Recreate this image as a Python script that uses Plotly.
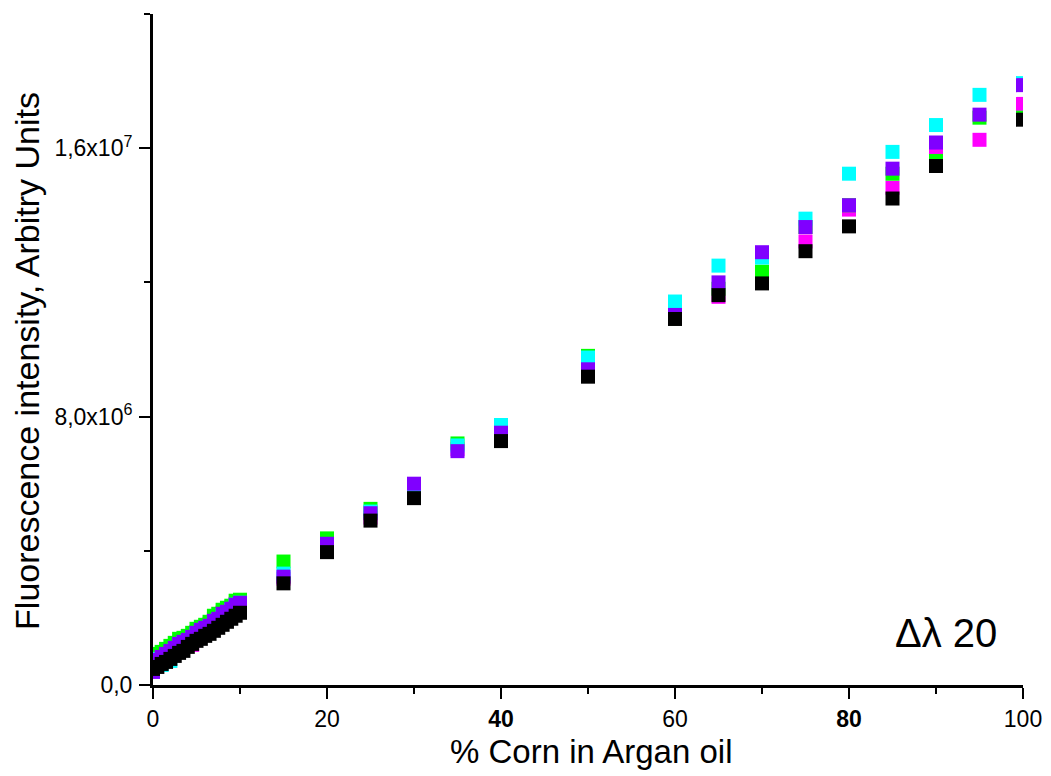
import plotly.graph_objects as go

# ---- data (fluorescence intensity vs % corn oil in argan oil) ----
x_low = [0, 0.5, 1, 1.5, 2, 2.5, 3, 3.5, 4, 4.5, 5, 5.5, 6, 6.5, 7, 7.5, 8, 8.5, 9, 9.5, 10]
x_high = [15, 20, 25, 30, 35, 40, 50, 60, 65, 70, 75, 80, 85, 90, 95, 100]

green_low = [0.837, 0.927, 0.987, 1.077, 1.166, 1.256, 1.376, 1.406, 1.465, 1.555, 1.675,
             1.735, 1.794, 1.884, 2.064, 2.123, 2.243, 2.303, 2.363, 2.512, 2.542]
green_high = [3.68, 4.37, 5.25, 5.86, 7.20, 7.57, 9.81, 10.93, 11.81, 12.32, 13.65, 14.30,
              15.24, 15.62, 16.91, 16.91]

magenta_low = [0.748, 0.807, 0.897, 0.987, 1.047, 1.166, 1.256, 1.316, 1.376, 1.196, 1.585,
               1.675, 1.735, 1.824, 1.974, 2.034, 2.153, 2.213, 2.303, 2.422, 2.482]
magenta_high = [3.17, 4.04, 4.99, 5.71, 7.03, 7.39, 9.36, 11.07, 11.57, 12.05, 13.22, 14.17,
                14.82, 15.80, 16.25, 17.32]

cyan_low = [0.688, 0.778, 0.598, 0.867, 0.718, 1.047, 1.196, 1.256, 1.316, 1.406, 1.525,
            1.585, 1.675, 1.735, 1.884, 1.944, 2.093, 2.153, 2.243, 2.393, 2.452]
cyan_high = [3.32, 4.10, 5.17, 5.80, 7.14, 7.75, 9.76, 11.43, 12.50, 12.74, 13.90, 15.24,
             15.89, 16.69, 17.59, 17.94]

violet_low = [0.389, 0.748, 0.837, 0.927, 1.017, 1.107, 1.226, 1.286, 1.346, 1.436, 1.555,
              1.645, 1.705, 1.765, 1.914, 1.974, 2.123, 2.183, 2.273, 2.393, 2.452]
violet_high = [3.23, 4.21, 5.12, 6.00, 6.97, 7.52, 9.41, 11.03, 12.00, 12.90, 13.65, 14.30,
               15.39, 16.17, 17.00, 17.88]

black_low = [0.479, 0.538, 0.628, 0.688, 0.778, 0.867, 0.957, 1.017, 1.136, 1.226, 1.316,
             1.376, 1.465, 1.525, 1.615, 1.705, 1.794, 1.884, 1.974, 2.064, 2.153]
black_high = [3.03, 3.96, 4.90, 5.57, None, 7.27, 9.19, 10.91, 11.62, 11.97, 12.93, 13.67,
              14.50, 15.47, None, 16.85]

series = [
    ("magenta", magenta_low + magenta_high, "#FF00FF"),
    ("green", green_low + green_high, "#00FF00"),
    ("cyan", cyan_low + cyan_high, "#00FFFF"),
    ("violet", violet_low + violet_high, "#8000FF"),
    ("black", black_low + black_high, "#000000"),
]

y_tickvals = [0, 8e6, 1.6e7]
y_ticktext = ["0,0", "8,0x10<sup>6</sup>", "1,6x10<sup>7</sup>"]
x_tickvals = [0, 20, 40, 60, 80, 100]
x_ticktext = ["0", "20", "<b>40</b>", "60", "<b>80</b>", "100"]

x_title = "% Corn in Argan oil"
y_title = "Fluorescence intensity, Arbitry Units"
label_text = "Δλ 20"

FONT = "Arial, Liberation Sans, sans-serif"

fig = go.Figure()
xs = x_low + x_high
for name, vals, color in series:
    fig.add_trace(go.Scatter(
        x=xs,
        y=[v * 1e6 if v is not None else None for v in vals],
        mode="markers",
        name=name,
        marker=dict(symbol="square", size=14, color=color, line=dict(width=0)),
        showlegend=False,
    ))

fig.add_annotation(
    x=0.912, y=0.078, xref="paper", yref="paper", xanchor="center", yanchor="middle",
    text=label_text, showarrow=False,
    font=dict(family=FONT, size=40, color="black"),
)
fig.add_annotation(
    x=0.5034, y=-0.0984, xref="paper", yref="paper", xanchor="center", yanchor="middle",
    text=x_title, showarrow=False,
    font=dict(family=FONT, size=33, color="black"),
)
fig.add_annotation(
    x=-0.1448, y=0.483, xref="paper", yref="paper", xanchor="center", yanchor="middle",
    text=y_title, showarrow=False, textangle=-90,
    font=dict(family=FONT, size=34, color="black"),
)

# page body has an 8px margin: figure is offset by 8px, margins compensate
fig.update_layout(
    width=1043, height=768,
    margin=dict(l=145, r=28, t=6, b=91, autoexpand=False),
    plot_bgcolor="white", paper_bgcolor="white",
    font=dict(family=FONT, color="black"),
    xaxis=dict(
        range=[0, 100], showgrid=False, zeroline=False, automargin=False,
        showline=True, linecolor="black", linewidth=3,
        ticks="outside", ticklen=11, tickwidth=2, tickcolor="black",
        tickvals=x_tickvals, ticktext=x_ticktext,
        tickfont=dict(family=FONT, size=23, color="black"),
        ticklabelstandoff=0,
        minor=dict(tickvals=[10, 30, 50, 70, 90], ticks="outside", ticklen=6,
                   tickwidth=2, tickcolor="black"),
    ),
    yaxis=dict(
        range=[0, 2.0e7], showgrid=False, zeroline=False, automargin=False,
        showline=True, linecolor="black", linewidth=3,
        ticks="outside", ticklen=11, tickwidth=2, tickcolor="black",
        tickvals=y_tickvals, ticktext=y_ticktext,
        tickfont=dict(family=FONT, size=23, color="black"),
        ticklabelstandoff=2,
        minor=dict(tickvals=[4e6, 1.2e7, 2.0e7], ticks="outside", ticklen=6,
                   tickwidth=2, tickcolor="black"),
    ),
)

fig.write_html("out.html")
